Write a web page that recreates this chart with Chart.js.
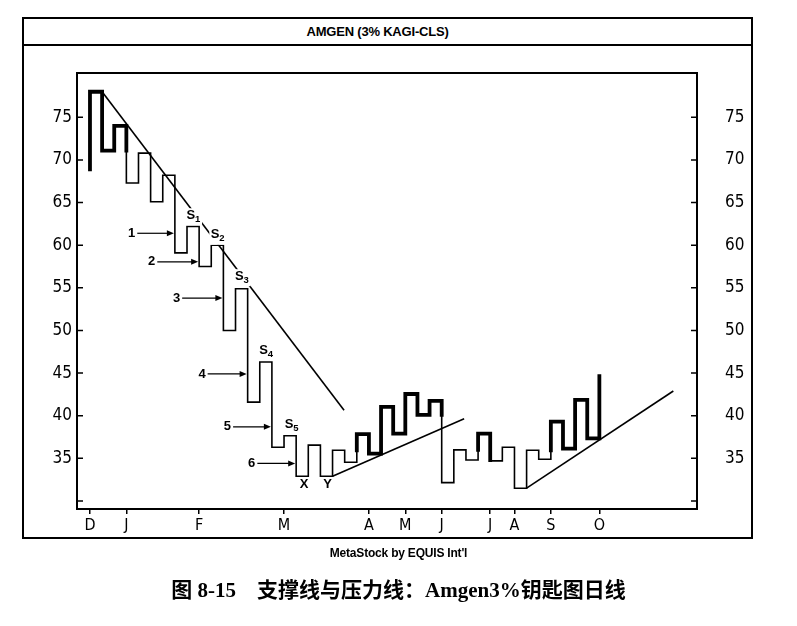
<!DOCTYPE html>
<html>
<head>
<meta charset="utf-8">
<title>AMGEN (3% KAGI-CLS)</title>
<script src="https://cdn.jsdelivr.net/npm/chart.js@4.4.1/dist/chart.umd.min.js"></script>
<style>
  body { margin: 0; background: #fff; width: 797px; height: 626px; position: relative; overflow: hidden; }
  #frame { position: absolute; left: 22px; top: 17px; width: 727px; height: 518px; border: 2px solid #000; }
  #titlebar { position: absolute; left: 0; top: 0; width: 707px; height: 25px; border-bottom: 2px solid #000;
              padding-right: 20px; text-align: center;
              font: bold 13px 'Liberation Sans', Arial, sans-serif; line-height: 25px; letter-spacing: -0.2px; }
  #chart { position: absolute; left: 0; top: 0; }
  #credit { position: absolute; left: 0; width: 797px; top: 545px; text-align: center;
            font: bold 12px 'Liberation Sans', Arial, sans-serif; line-height: 16px; letter-spacing: -0.2px; }
  #caption { position: absolute; left: 0; width: 797px; top: 577px; text-align: center;
             font: bold 21px 'Liberation Serif', 'Noto Sans CJK SC', serif; line-height: 26px; }
</style>
</head>
<body>
<div id="frame"><div id="titlebar">AMGEN (3% KAGI-CLS)</div></div>
<canvas id="chart" width="797" height="626"></canvas>
<div id="credit">MetaStock by EQUIS Int'l</div>
<div id="caption">图 8-15　支撑线与压力线：Amgen3%钥匙图日线</div>

<script>
// month labels sit on the kagi column where the month starts
const months = ['D', 'J', 'F', 'M', 'A', 'M', 'J', 'J', 'A', 'S', 'O'];
const monthCols = [0, 3, 9, 16, 23, 26, 29, 33, 35, 38, 42];
const priceTicks = [30, 35, 40, 45, 50, 55, 60, 65, 70, 75];

// kagi: first price, then the price each column turns at
const kagiStart = 68.9;
const kagiTurns = [78.0, 71.1, 74.0, 67.3, 70.8, 65.1, 68.2, 59.1, 62.2, 57.5,
                   60.0, 50.0, 54.9, 41.6, 46.3, 36.3, 37.65, 32.9, 36.55, 32.9,
                   35.95, 34.55, 37.85, 35.55, 41.05, 37.9, 42.55, 40.1, 41.75, 32.15,
                   36.0, 34.8, 37.9, 34.7, 36.3, 31.5, 35.95, 34.9, 39.3, 36.15,
                   41.85, 37.35, 44.65];

// trend lines [column, price]
const downTrend = [[1, 78.0], [20.95, 40.65]];
const upTrendA = [[20, 32.9], [30.85, 39.65]];
const upTrendB = [[36, 31.5], [48.1, 42.9]];

// annotations
const sNames = ['1', '2', '3', '4', '5'];
const sCols = [8.5, 10.5, 12.5, 14.5, 16.6];
const sPrices = [63.4, 61.1, 56.25, 47.6, 38.9];
const arrowNames = ['1', '2', '3', '4', '5', '6'];
const arrowFrom = [3.9, 5.55, 7.6, 9.7, 11.8, 13.8];
const arrowTo = [7, 9, 11, 13, 15, 17];
const arrowPrices = [61.4, 58.05, 53.8, 44.9, 38.7, 34.4];
const pointNames = ['X', 'Y'];
const pointCols = [17.65, 19.6];
const pointPrices = [32.0, 32.0];

// builds the kagi path, thick (yang) above the last shoulder, thin (yin) below the last waist
function buildKagi() {
    let level = kagiStart, thick = true, shoulder = null, waist = null;
    const pts = [{ x: 0, y: level, thick: true }];
    kagiTurns.forEach(function (p, i) {
        if (i > 0) pts.push({ x: i, y: level, thick: thick });
        if (p > level) {
            waist = level;
            if (!thick && shoulder !== null && p > shoulder) {
                pts.push({ x: i, y: shoulder, thick: thick });
                thick = true;
            }
        } else {
            shoulder = level;
            if (thick && waist !== null && p < waist) {
                pts.push({ x: i, y: waist, thick: thick });
                thick = false;
            }
        }
        pts.push({ x: i, y: p, thick: thick });
        level = p;
    });
    return pts;
}
const kagiPts = buildKagi();

const tickFont = { family: "'Liberation Sans Narrow', 'DejaVu Sans Condensed', 'Liberation Sans', sans-serif", size: 17 };
const labelFont = "bold 13px 'Liberation Sans', Arial, sans-serif";

function trendSet(pair) {
    return {
        data: pair.map(function (p) { return { x: p[0], y: p[1] }; }),
        showLine: true, borderColor: '#000', borderWidth: 1.6, pointRadius: 0, yAxisID: 'y'
    };
}

// frame of the plot, ticks pointing inward, and the text marks
const extras = {
    id: 'extras',
    afterDatasetsDraw(chart) {
        const ctx = chart.ctx, a = chart.chartArea, x = chart.scales.x, y = chart.scales.y;
        ctx.save();
        ctx.strokeStyle = '#000';
        ctx.fillStyle = '#000';
        ctx.lineWidth = 2;
        ctx.strokeRect(a.left, a.top, a.right - a.left, a.bottom - a.top);
        ctx.lineWidth = 1.5;
        priceTicks.forEach(function (v) {
            const py = y.getPixelForValue(v);
            ctx.beginPath();
            ctx.moveTo(a.left, py); ctx.lineTo(a.left + 6, py);
            ctx.moveTo(a.right, py); ctx.lineTo(a.right - 6, py);
            ctx.stroke();
        });

        ctx.textBaseline = 'middle';
        // S labels with subscript, white behind so the trend line breaks
        sNames.forEach(function (n, i) {
            const px = x.getPixelForValue(sCols[i]), py = y.getPixelForValue(sPrices[i]);
            ctx.fillStyle = '#fff';
            ctx.fillRect(px - 8, py - 8, 17, 17);
            ctx.fillStyle = '#000';
            ctx.font = labelFont;
            ctx.textAlign = 'right';
            ctx.fillText('S', px + 2, py - 1);
            ctx.font = "bold 9.5px 'Liberation Sans', Arial, sans-serif";
            ctx.textAlign = 'left';
            ctx.fillText(n, px + 2, py + 3);
        });

        // numbered arrows
        ctx.font = labelFont;
        ctx.lineWidth = 1.2;
        arrowNames.forEach(function (n, i) {
            const x0 = x.getPixelForValue(arrowFrom[i]), x1 = x.getPixelForValue(arrowTo[i]);
            const py = y.getPixelForValue(arrowPrices[i]);
            ctx.textAlign = 'right';
            ctx.fillText(n, x0 - 2, py);
            ctx.beginPath();
            ctx.moveTo(x0, py); ctx.lineTo(x1 - 6, py);
            ctx.stroke();
            ctx.beginPath();
            ctx.moveTo(x1 - 1, py); ctx.lineTo(x1 - 8, py - 3); ctx.lineTo(x1 - 8, py + 3);
            ctx.closePath();
            ctx.fill();
        });

        ctx.textAlign = 'center';
        pointNames.forEach(function (n, i) {
            ctx.fillText(n, x.getPixelForValue(pointCols[i]), y.getPixelForValue(pointPrices[i]));
        });
        ctx.restore();
    }
};

const axisY = {
    min: 29.06, max: 80.2,
    afterBuildTicks(s) { s.ticks = priceTicks.map(function (v) { return { value: v }; }); },
    ticks: { callback: function (v) { return v === 30 ? '' : v; }, color: '#000', font: tickFont },
    grid: { display: false, drawTicks: false },
    border: { display: false }
};

new Chart(document.getElementById('chart'), {
    type: 'scatter',
    data: {
        datasets: [
            {
                data: kagiPts,
                showLine: true, borderColor: '#000', pointRadius: 0, yAxisID: 'y',
                borderCapStyle: 'square', borderJoinStyle: 'miter',
                segment: { borderWidth: function (c) { return kagiPts[c.p1DataIndex].thick ? 3.8 : 1.6; } }
            },
            trendSet(downTrend),
            trendSet(upTrendA),
            trendSet(upTrendB)
        ]
    },
    options: {
        responsive: false,
        animation: false,
        devicePixelRatio: 1,
        layout: { padding: { left: 0, right: 0, top: 73, bottom: 0 } },
        plugins: { legend: { display: false }, tooltip: { enabled: false } },
        scales: {
            x: {
                type: 'linear', min: -1.07, max: 50.05,
                afterFit(s) { s.height = 117; },
                afterBuildTicks(s) { s.ticks = monthCols.map(function (v) { return { value: v }; }); },
                ticks: {
                    callback: function (v, i) { return months[i]; },
                    autoSkip: false, maxRotation: 0, padding: 2, color: '#000',
                    font: { family: tickFont.family, size: 16 }
                },
                grid: { drawOnChartArea: false, tickLength: 5, color: '#000', lineWidth: 1.5 },
                border: { display: false }
            },
            y: Object.assign({}, axisY, {
                position: 'left',
                afterFit(s) { s.width = 77; },
                ticks: Object.assign({}, axisY.ticks, { padding: 5 })
            }),
            y2: Object.assign({}, axisY, {
                position: 'right',
                afterFit(s) { s.width = 100; },
                ticks: Object.assign({}, axisY.ticks, { padding: 28 })
            })
        }
    },
    plugins: [extras]
});
</script>
</body>
</html>
